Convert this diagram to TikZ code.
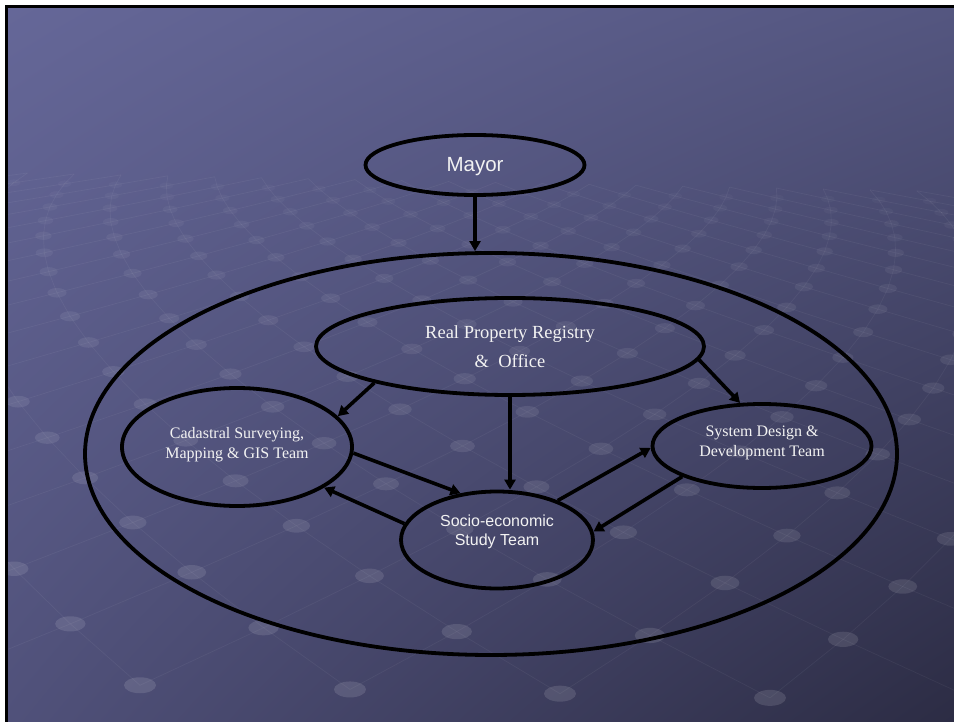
\documentclass[tikz,border=0pt]{standalone}
\usepackage{fontspec}
\setmainfont{Liberation Serif}
\newfontfamily\arialf{Liberation Sans}
\usetikzlibrary{arrows.meta,calc,shapes.geometric,shadings}

\definecolor{bgA}{RGB}{101,103,152}
\definecolor{bgB}{RGB}{84,86,128}
\definecolor{bgC}{RGB}{80,81,122}
\definecolor{bgD}{RGB}{44,44,68}
\definecolor{txtc}{RGB}{242,242,242}

\begin{document}
\begin{tikzpicture}[x=1pt,y=-1pt,
  oval/.style={ellipse, draw=black, line width=3.8pt, inner sep=0pt},
  conn/.style={line width=3.6pt, -{Triangle[length=10pt,width=11pt]}},
  serift/.style={text=txtc, align=center, font=\fontsize{16}{19.5}\selectfont},
  sanst/.style={text=txtc, align=center, font=\arialf\fontsize{16}{19.5}\selectfont}]

\useasboundingbox (0,0) rectangle (954,722);
\fill[white] (0,0) rectangle (954,722);
\shade[upper left=bgA, upper right=bgB, lower left=bgC, lower right=bgD] (8,8) rectangle (954,722);

\begin{scope}
\clip (8,8) rectangle (954,722);
\foreach \r in {0,...,17}{
  \pgfmathsetmacro\ya{692-600*(1-0.9^\r)}
  \pgfmathsetmacro\yb{692-600*(1-0.9^(\r+1))}
  \pgfmathsetmacro\sa{0.92^\r}
  \pgfmathsetmacro\sb{0.92^(\r+1)}
  \pgfmathsetmacro\rad{16*0.95^\r}
  \pgfmathsetmacro\op{0.12*(1-\r/22)}
  \pgfmathsetmacro\off{mod(\r,2)*0.5}
  \foreach \i in {-14,...,14}{
    \pgfmathsetmacro\X{\i+\off}
    \pgfmathsetmacro\xa{477+(140+\X*210-477)*\sa}
    \pgfmathsetmacro\xl{477+(140+(\X-0.5)*210-477)*\sb}
    \pgfmathsetmacro\xr{477+(140+(\X+0.5)*210-477)*\sb}
    \pgfmathsetmacro\yv{\ya+0.02*(\xa-477)}
    \pgfmathsetmacro\yl{\yb+0.02*(\xl-477)}
    \pgfmathsetmacro\yr{\yb+0.02*(\xr-477)}
    \draw[white, opacity=0.05, line width=0.7pt] (\xl,\yl) -- (\xa,\yv) -- (\xr,\yr);
    \fill[white, fill opacity=\op] (\xa,\yv) ellipse [x radius=\rad, y radius=0.5*\rad];
  }
}
\end{scope}
\draw[line width=3pt] (6.5,722) -- (6.5,6.5) -- (954,6.5);

\node[oval, minimum width=219pt, minimum height=60pt] (mayor) at (475,165) {};
\node[oval, minimum width=812pt, minimum height=402pt] (big) at (491,454) {};
\node[oval, minimum width=388pt, minimum height=97pt] (rpr) at (510,346.5) {};
\node[oval, minimum width=230pt, minimum height=118pt] (cad) at (237,447) {};
\node[oval, minimum width=219pt, minimum height=84pt] (sys) at (762,446) {};
\node[oval, minimum width=192pt, minimum height=97pt] (socio) at (497,540) {};

\node[sanst, font=\arialf\fontsize{20.5}{24}\selectfont] (mayorT) at ($(mayor)+(0,2)$) {Mayor};
\node[serift, font=\fontsize{18.5}{29}\selectfont] (rprT) at (rpr) {Real Property Registry\\ \&\ \ Office};
\node[serift] (cadT) at ($(cad)+(0,-2.5)$) {Cadastral Surveying,\\Mapping \& GIS Team};
\node[serift, font=\fontsize{16}{20}\selectfont] (sysT) at ($(sys)+(0,-3)$) {System Design \&\\Development Team};
\node[sanst] (socioT) at ($(socio)+(0,-8)$) {Socio-economic\\Study Team};

\draw[conn] (mayor.south) -- (mayor.south |- big.north);
\draw[conn] (rpr.195) -- (cad.17);
\draw[conn] (rpr.south) -- (rpr.south |- socio.north);
\draw[conn] (rpr.356) -- (sys.117);
\draw[conn] (cad.357) -- (socio.128);
\draw[conn] (socio.170) -- (cad.335);
\draw[conn] (socio.33) -- (sys.181);
\draw[conn] (sys.201) -- (socio.5);
\end{tikzpicture}
\end{document}
